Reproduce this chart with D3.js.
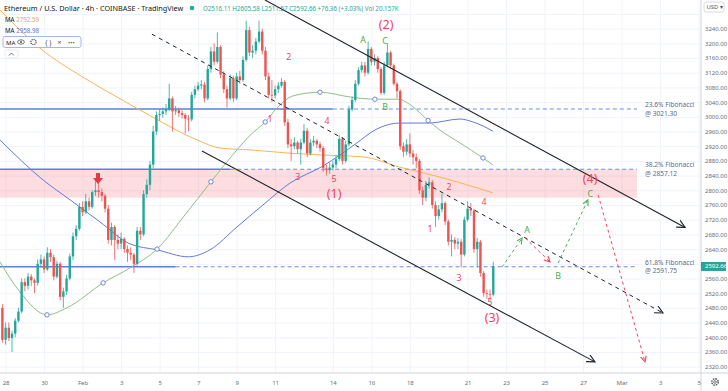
<!DOCTYPE html>
<html>
<head>
<meta charset="utf-8">
<script src="https://cdn.jsdelivr.net/npm/d3@7"></script>
<style>
  html, body { margin: 0; padding: 0; background: #fff; }
  svg { display: block; font-family: "Noto Sans", "Open Sans", sans-serif; }
</style>
</head>
<body>
<svg id="chart" width="728" height="391"></svg>
<script>
const svg = d3.select("#chart");

const W = 728, H = 391;
const plotRight = 701;   // left edge of the price scale
const plotBottom = 373;  // top edge of the time scale

// ---- data ----
const t0 = Date.UTC(2022, 0, 27, 20); // first 4h candle
const step = 4 * 3600 * 1000;
const firstOpen = 2480;

const closes = [2393,2426,2398,2410,2445,2470,2550,2540,2565,2555,
  2548,2600,2612,2585,2630,2618,2565,2600,2510,2525,
  2560,2620,2675,2695,2755,2740,2770,2755,2795,2800,
  2795,2785,2750,2665,2700,2665,2655,2668,2640,2630,
  2625,2600,2690,2680,2790,2815,2870,2960,3005,3008,
  3015,3020,3050,3015,3018,3010,3005,2995,2993,3060,
  3075,3085,3088,3050,3130,3178,3150,3190,3115,3075,
  3050,3105,3050,3110,3100,3155,3236,3175,3180,3205,
  3232,3180,3110,3060,3058,3075,3085,3095,2985,2925,
  2920,2930,2912,2930,2962,2900,2930,2935,2925,2915,
  2860,2855,2862,2870,2885,2940,2880,2925,3020,3046,
  3090,3127,3140,3120,3185,3150,3160,3130,3065,3140,
  3175,3140,3090,3070,2920,2905,2925,2900,2890,2880,
  2800,2780,2815,2822,2760,2730,2748,2765,2715,2660,
  2665,2655,2660,2625,2720,2750,2745,2640,2660,2575,
  2520,2518,2516.11,2592.66];

const highs = [2490,2440,2440,2418,2452,2480,2560,2560,2575,2572,
  2560,2612,2625,2620,2645,2640,2625,2608,2605,2535,
  2570,2628,2685,2705,2765,2770,2790,2780,2800,2830,
  2828,2805,2790,2760,2712,2705,2680,2685,2672,2650,
  2645,2630,2700,2700,2800,2830,2880,2975,3015,3020,
  3025,3035,3090,3055,3030,3025,3018,3010,3005,3068,
  3085,3095,3100,3095,3140,3190,3200,3230,3195,3125,
  3085,3115,3112,3120,3125,3165,3262,3245,3195,3215,
  3262,3240,3190,3120,3100,3085,3095,3105,3100,2995,
  2940,2945,2935,2940,2980,2970,2940,2948,2940,2932,
  2920,2870,2875,2880,2895,2950,2945,2935,3030,3055,
  3100,3135,3150,3150,3205,3190,3170,3165,3135,3150,
  3200,3180,3145,3095,3075,2930,2940,2955,2910,2900,
  2885,2810,2825,2835,2828,2770,2760,2790,2770,2720,
  2680,2672,2670,2668,2728,2770,2765,2750,2670,2665,
  2580,2530,2530,2605.58];

const lows = [2385,2380,2390,2360,2400,2440,2465,2525,2530,2540,
  2520,2540,2590,2575,2580,2605,2555,2560,2500,2480,
  2515,2555,2610,2665,2690,2730,2735,2745,2750,2785,
  2780,2770,2740,2655,2650,2610,2640,2640,2630,2605,
  2610,2575,2595,2665,2675,2780,2800,2860,2950,2990,
  2998,3005,3015,2960,3005,3000,2995,2955,2960,2988,
  3050,3070,3075,3040,3045,3120,3140,3145,3105,3065,
  3025,3045,3040,3045,3090,3095,3150,3165,3160,3170,
  3200,3170,3100,3050,3040,3050,3065,3080,2975,2915,
  2880,2912,2900,2870,2925,2890,2895,2920,2915,2905,
  2850,2840,2845,2855,2860,2880,2870,2875,2920,3015,
  3040,3085,3120,3110,3115,3140,3140,3120,3060,3060,
  3135,3130,3085,3050,2910,2890,2895,2890,2870,2860,
  2790,2760,2770,2805,2750,2700,2720,2740,2705,2650,
  2620,2640,2640,2590,2620,2715,2730,2630,2590,2565,
  2510,2505,2500,2511.57];

// moving averages, [candle index, price]
const maOrange = [[-0.75,3291],[11.7,3187],[25.1,3108],[35.7,3054],[46.9,2999],[60.7,2937],
  [67.8,2915],[77.2,2910],[89.7,2901],[99.9,2896],[112.4,2891],[123.9,2863],[136.4,2836],[152.9,2793]];
const maBlue = [[-0.75,2937],[12.7,2828],[21.1,2774],[30.4,2714],[39.8,2654],[48.2,2638],[57.9,2619],
  [64.7,2638],[73.1,2700],[81.2,2760],[89.7,2820],[99.9,2866],[105.2,2896],[110.5,2929],[116.1,2964],
  [123.9,2983],[133,2983],[142.6,2994],[146.7,2986],[152.9,2961]];
const maGreen = [[-0.75,2605],[5.5,2523],[13.9,2461],[20.1,2480],[31.4,2548],[39.8,2589],[48.2,2640],
  [56.9,2733],[65,2823],[73.1,2910],[77.2,2950],[81.9,2986],[85.6,3024],[90.6,3057],[99,3067],
  [108.4,3054],[116.1,3048],[123.3,3048],[128,3027],[132.7,2990],[136.4,2964],[142.6,2929],
  [149.8,2888],[152.9,2869]];
const greenHandles = [2, 4, 6, 8, 11, 14, 16, 19, 22]; // positions in maGreen with a handle

const priceTicks = d3.range(2320, 3281, 40);
const dateTicks = [[0,28],[0,30],[1,1],[1,3],[1,5],[1,7],[1,9],[1,11],[1,14],[1,16],[1,18],
  [1,21],[1,23],[1,25],[1,27],[2,1],[2,3],[2,5]].map(([m, d]) => new Date(Date.UTC(2022, m, d)));
const dateLabels = ["28","30","Feb","3","5","7","9","11","14","16","18","21","23","25","27","Mar","3","5"];

// Fibonacci levels
const fibLevels = [
  { name: "23.6% Fibonacci", price: 3021.30, solidTo: 103 },
  { name: "38.2% Fibonacci", price: 2857.12, solidTo: 71 },
  { name: "61.8% Fibonacci", price: 2591.75, solidTo: 54 }
];
const fibEnd = 197.8;     // candle index where the levels stop
const fibLabelAt = 200.3;
const zoneTop = 2857.12, zoneBottom = 2780;

// drawn lines, [candle index, price]
const channelLines = [
  [[81.85,3318],[212.8,2699]],
  [[62.2,2907],[184.7,2333]]
];
const midLine = [[46.6,3225],[205.9,2466]];
const projGreen = [
  [[155.7,2591],[162,2670]],
  [[173.2,2602],[182.5,2774]]
];
const projRed = [
  [[163,2670],[170.7,2605]],
  [[185.7,2787],[200.3,2333]]
];

// wave labels [candle index, price, text]
const waveLabels = [
  [119.6,3252,"(2)"],[112.4,3208,"A"],[119.3,3207,"C"],[119.3,3027,"B"],
  [89.3,3163,"2"],[83.4,2994,"1"],[101.2,2989,"4"],[92.1,2836,"3"],[103.4,2832,"5"],[103.4,2792,"(1)"],
  [139.2,2809,"2"],[133.3,2695,"1"],[150.1,2768,"4"],[142.3,2561,"3"],[152,2495,"5"],[152.6,2455,"(3)"],
  [163.5,2692,"A"],[173.2,2567,"B"],[183.2,2791,"C"],[183.2,2831,"(4)"]
];
const signalArrow = [29.8, 2817];

// ---- scales ----
const x = d3.scaleUtc()
  .domain([new Date(Date.UTC(2022, 0, 28)), new Date(Date.UTC(2022, 2, 5))])
  .range([5.6, 698.6]);
const y = d3.scaleLinear().domain([2300, 3318]).range([374, 0]);
const xOf = i => x(new Date(t0 + i * step));

const up = "#26a69a", down = "#ef5350";
const red = "#f0445f", green = "#4caf50";
const last = closes[closes.length - 1];

// ---- grid ----
svg.append("g")
  .attr("transform", `translate(0,${plotBottom})`)
  .call(d3.axisBottom(x).tickValues(dateTicks).tickSize(-plotBottom).tickFormat(""))
  .call(g => g.select(".domain").remove())
  .selectAll("line").attr("stroke", "#f0f3fa");
svg.append("g")
  .call(d3.axisLeft(y).tickValues(priceTicks).tickSize(-plotRight).tickFormat(""))
  .call(g => g.select(".domain").remove())
  .selectAll("line").attr("stroke", "#f0f3fa");

svg.append("clipPath").attr("id", "plot")
  .append("rect").attr("width", plotRight).attr("height", plotBottom);
const plot = svg.append("g").attr("clip-path", "url(#plot)");

// ---- arrow markers ----
const defs = svg.append("defs");
function marker(id, color, size) {
  defs.append("marker")
    .attr("id", id)
    .attr("markerUnits", "userSpaceOnUse")
    .attr("markerWidth", size + 2).attr("markerHeight", size + 2)
    .attr("refX", size).attr("refY", size / 2)
    .attr("orient", "auto")
    .append("path")
    .attr("d", `M0,0 L${size},${size / 2} L0,${size}`)
    .attr("fill", "none").attr("stroke", color).attr("stroke-width", 1.1);
}
marker("arrBlack", "#1e222d", 8);
marker("arrGreen", green, 6);
marker("arrRed", red, 6);

// ---- support / resistance zone and fibonacci levels ----
plot.append("rect")
  .attr("x", 0).attr("y", y(zoneTop))
  .attr("width", xOf(fibEnd)).attr("height", y(zoneBottom) - y(zoneTop))
  .attr("fill", "#f23645").attr("fill-opacity", 0.17);

fibLevels.forEach(f => {
  plot.append("line")
    .attr("x1", 0).attr("x2", xOf(f.solidTo))
    .attr("y1", y(f.price)).attr("y2", y(f.price))
    .attr("stroke", "#5b7ee0").attr("stroke-width", 1.6);
  plot.append("line")
    .attr("x1", xOf(f.solidTo)).attr("x2", xOf(fibEnd))
    .attr("y1", y(f.price)).attr("y2", y(f.price))
    .attr("stroke", "#6d8de6").attr("stroke-width", 1.1)
    .attr("stroke-dasharray", "4,3");
  const lab = plot.append("text")
    .attr("x", xOf(fibLabelAt)).attr("y", y(f.price))
    .attr("font-size", 6.6).attr("fill", "#5d6b91");
  lab.append("tspan").attr("x", xOf(fibLabelAt)).attr("dy", "-0.35em").text(f.name);
  lab.append("tspan").attr("x", xOf(fibLabelAt)).attr("dy", "1.35em")
    .text("@ " + d3.format(".2f")(f.price));
});

// ---- moving averages ----
const maLine = d3.line().x(d => xOf(d[0])).y(d => y(d[1])).curve(d3.curveMonotoneX);
plot.append("path").attr("d", maLine(maOrange))
  .attr("fill", "none").attr("stroke", "#f7b555").attr("stroke-width", 1);
plot.append("path").attr("d", maLine(maBlue))
  .attr("fill", "none").attr("stroke", "#6478da").attr("stroke-width", 1);
plot.append("path").attr("d", maLine(maGreen))
  .attr("fill", "none").attr("stroke", "#8fbf85").attr("stroke-width", 1);

// ---- candles ----
const candles = closes.map((c, i) => ({
  i, o: i === 0 ? firstOpen : closes[i - 1], h: highs[i], l: lows[i], c
}));
const bodyW = 2.4;
const cg = plot.append("g");
cg.selectAll("line.wick").data(candles).enter().append("line")
  .attr("x1", d => xOf(d.i)).attr("x2", d => xOf(d.i))
  .attr("y1", d => y(d.h)).attr("y2", d => y(d.l))
  .attr("stroke", d => d.c >= d.o ? up : down).attr("stroke-width", 0.8);
cg.selectAll("rect").data(candles).enter().append("rect")
  .attr("x", d => xOf(d.i) - bodyW / 2).attr("width", bodyW)
  .attr("y", d => y(Math.max(d.o, d.c)))
  .attr("height", d => Math.max(0.8, Math.abs(y(d.o) - y(d.c))))
  .attr("fill", d => d.c >= d.o ? up : down);

// handles on the selected MA
plot.selectAll("circle.handle").data(greenHandles.map(k => maGreen[k])).enter().append("circle")
  .attr("cx", d => xOf(d[0])).attr("cy", d => y(d[1])).attr("r", 2.2)
  .attr("fill", "#fff").attr("stroke", "#6478da").attr("stroke-width", 0.9);

// ---- trend channel and projections ----
const seg = d3.line().x(d => xOf(d[0])).y(d => y(d[1]));
channelLines.forEach(l => plot.append("path").attr("d", seg(l))
  .attr("stroke", "#1e222d").attr("stroke-width", 1.1).attr("fill", "none")
  .attr("marker-end", "url(#arrBlack)"));
plot.append("path").attr("d", seg(midLine))
  .attr("stroke", "#1e222d").attr("stroke-width", 1).attr("fill", "none")
  .attr("stroke-dasharray", "4,4").attr("marker-end", "url(#arrBlack)");
projGreen.forEach(l => plot.append("path").attr("d", seg(l))
  .attr("stroke", green).attr("stroke-width", 1).attr("fill", "none")
  .attr("stroke-dasharray", "3,3").attr("marker-end", "url(#arrGreen)"));
projRed.forEach(l => plot.append("path").attr("d", seg(l))
  .attr("stroke", red).attr("stroke-width", 1).attr("fill", "none")
  .attr("stroke-dasharray", "3,3").attr("marker-end", "url(#arrRed)"));

// signal arrow
const ax = xOf(signalArrow[0]), ay = y(signalArrow[1]);
plot.append("path")
  .attr("d", `M${ax - 2},${ay - 11} h4 v5 h3 l-5,6 l-5,-6 h3 z`)
  .attr("fill", "#e53945");

// wave labels
plot.selectAll("text.wave").data(waveLabels).enter().append("text")
  .attr("x", d => xOf(d[0])).attr("y", d => y(d[1]))
  .attr("text-anchor", "middle").attr("dominant-baseline", "central")
  .attr("font-size", d => d[2].startsWith("(") ? 12.5 : 8.8)
  .attr("fill", d => /[ABC]/.test(d[2]) ? green : red)
  .text(d => d[2]);

// ---- scales ----
svg.append("line").attr("x1", plotRight).attr("x2", plotRight).attr("y1", 0).attr("y2", H)
  .attr("stroke", "#d1d4dc");
svg.append("line").attr("x1", 0).attr("x2", W).attr("y1", plotBottom).attr("y2", plotBottom)
  .attr("stroke", "#d1d4dc");

// price labels hidden under the last-price tag or the currency box are skipped
const shownPrices = priceTicks.filter(p => Math.abs(y(p) - y(last)) > 8 && y(p) > 16);
svg.append("g")
  .attr("transform", `translate(${plotRight},0)`)
  .call(d3.axisRight(y).tickValues(shownPrices).tickFormat(d3.format(".2f")).tickSize(0).tickPadding(4))
  .call(g => g.select(".domain").remove())
  .selectAll("text").attr("font-size", 6).attr("fill", "#6a6d78")
  .attr("font-family", "Noto Sans, sans-serif");

svg.append("g")
  .attr("transform", `translate(0,${plotBottom})`)
  .call(d3.axisBottom(x).tickValues(dateTicks).tickFormat((d, i) => dateLabels[i]).tickSize(0).tickPadding(8))
  .call(g => g.select(".domain").remove())
  .selectAll("text").attr("font-size", 6).attr("fill", "#6a6d78")
  .attr("font-family", "Noto Sans, sans-serif");

// last price tag
svg.append("rect").attr("x", plotRight).attr("y", y(last) - 4.5)
  .attr("width", W - plotRight - 2).attr("height", 9).attr("fill", up);
svg.append("text").attr("x", plotRight + 4).attr("y", y(last))
  .attr("dominant-baseline", "central").attr("font-size", 6).attr("fill", "#fff")
  .text(d3.format(".2f")(last));

// currency box
svg.append("rect").attr("x", 704).attr("y", 2).attr("width", 20).attr("height", 10)
  .attr("rx", 2).attr("fill", "#fff").attr("stroke", "#d1d4dc").attr("stroke-width", 0.8);
svg.append("text").attr("x", 706.5).attr("y", 9.3).attr("font-size", 5.8).attr("fill", "#50535e")
  .text("USD ▾");

// settings gear
const gear = svg.append("g").attr("transform", "translate(715,382)");
gear.append("circle").attr("r", 3.2).attr("fill", "none").attr("stroke", "#50535e")
  .attr("stroke-width", 1.4).attr("stroke-dasharray", "1.6,0.9");
gear.append("circle").attr("r", 1.3).attr("fill", "none").attr("stroke", "#50535e").attr("stroke-width", 0.8);

// ---- header / legend ----
svg.append("text").attr("x", 4).attr("y", 10.5).attr("font-size", 7.3).attr("fill", "#131722")
  .text("Ethereum / U.S. Dollar · 4h · COINBASE · TradingView");
svg.append("circle").attr("cx", 192).attr("cy", 8).attr("r", 2.3).attr("fill", up);
svg.append("text").attr("x", 203).attr("y", 10.5).attr("font-size", 6.2).attr("fill", up)
  .text("O2516.11  H2605.58  L2511.57  C2592.66  +76.36 (+3.03%)  Vol 20.157K");

const legend = [["2792.59", "#f5a623"], ["2958.98", "#5b73d6"]];
legend.forEach((l, k) => {
  const t = svg.append("text").attr("x", 5).attr("y", 22 + k * 11).attr("font-size", 6.2);
  t.append("tspan").attr("fill", "#131722").text("MA ");
  t.append("tspan").attr("fill", l[1]).text(l[0]);
});

const tb = svg.append("g");
tb.append("rect").attr("x", 3).attr("y", 36.5).attr("width", 78).attr("height", 11)
  .attr("rx", 2).attr("fill", "#fff").attr("stroke", "#8aa4f0").attr("stroke-width", 0.8);
tb.append("text").attr("x", 6).attr("y", 44.5).attr("font-size", 6).attr("fill", "#131722").text("MA");
tb.append("ellipse").attr("cx", 21).attr("cy", 42).attr("rx", 3.4).attr("ry", 2.2)
  .attr("fill", "none").attr("stroke", "#50535e").attr("stroke-width", 0.8);
tb.append("circle").attr("cx", 21).attr("cy", 42).attr("r", 1).attr("fill", "#50535e");
tb.append("circle").attr("cx", 33.5).attr("cy", 42).attr("r", 2.6)
  .attr("fill", "none").attr("stroke", "#50535e").attr("stroke-width", 1.2).attr("stroke-dasharray", "1.2,0.8");
tb.append("text").attr("x", 45).attr("y", 44.5).attr("font-size", 6.5).attr("fill", "#50535e").text("{ }");
tb.append("text").attr("x", 57.5).attr("y", 44.8).attr("font-size", 7).attr("fill", "#50535e").text("×");
tb.append("text").attr("x", 68).attr("y", 44.5).attr("font-size", 6).attr("fill", "#50535e").text("•••");
tb.append("rect").attr("x", 5).attr("y", 50).attr("width", 13).attr("height", 8)
  .attr("rx", 1.5).attr("fill", "#fff").attr("stroke", "#e0e3eb").attr("stroke-width", 0.8);
tb.append("path").attr("d", "M9,55.5 L11.5,53 L14,55.5").attr("fill", "none")
  .attr("stroke", "#50535e").attr("stroke-width", 0.8);
</script>
</body>
</html>
